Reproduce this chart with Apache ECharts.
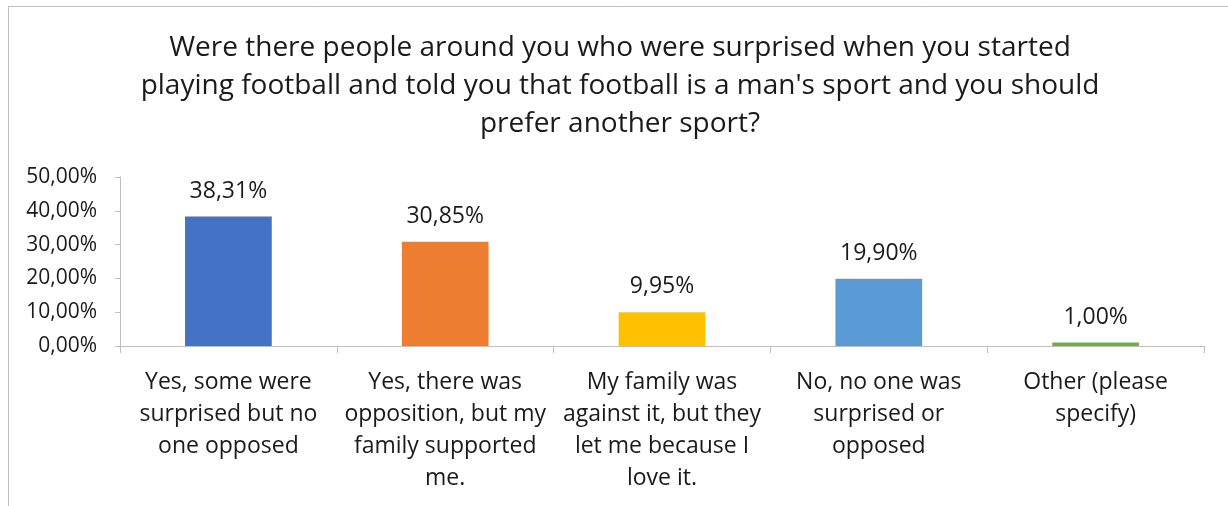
<!DOCTYPE html>
<html>
<head>
<meta charset="utf-8">
<script src="https://cdn.jsdelivr.net/npm/echarts@6/dist/echarts.min.js"></script>
<style>
  html, body { margin: 0; padding: 0; background: #fff; }
  #chart { width: 1228px; height: 506px; }
</style>
</head>
<body>
<div id="chart"></div>
<script>
const titleText = "Were there people around you who were surprised when you started\nplaying football and told you that football is a man's sport and you should\nprefer another sport?";
const categories = [
  "Yes, some were\nsurprised but no\none opposed",
  "Yes, there was\nopposition, but my\nfamily supported\nme.",
  "My family was\nagainst it, but they\nlet me because I\nlove it.",
  "No, no one was\nsurprised or\nopposed",
  "Other (please\nspecify)"
];
const values = [38.31, 30.85, 9.95, 19.90, 1.00];
const barColors = ["#4472C4", "#ED7D31", "#FFC000", "#5B9BD5", "#70AD47"];
const yTicks = [0, 10, 20, 30, 40, 50];

const fontFamily = "'Open Sans', sans-serif";
const textColor = '#1a1a1a';
const pct = v => v.toFixed(2).replace('.', ',') + '%';

const chart = echarts.init(document.getElementById('chart'));
chart.setOption({
  animation: false,
  textStyle: { fontFamily: fontFamily, color: textColor },
  graphic: [
    {
      type: 'polyline',
      shape: { points: [[8.5, 520], [8.5, 6.5], [1240, 6.5]] },
      style: { stroke: '#bfbfbf', lineWidth: 1, fill: null },
      silent: true
    },
    {
      type: 'text',
      x: 620,
      y: 29,
      style: {
        text: titleText,
        align: 'center',
        verticalAlign: 'top',
        fontSize: 28,
        lineHeight: 38,
        fontFamily: fontFamily,
        fill: textColor
      },
      silent: true
    }
  ],
  grid: { left: 120, right: 24, top: 177, bottom: 160, containLabel: false },
  xAxis: {
    type: 'category',
    data: categories,
    axisLine: { lineStyle: { color: '#bfbfbf' } },
    axisTick: { show: true, length: 7, lineStyle: { color: '#bfbfbf' } },
    axisLabel: { fontSize: 23, lineHeight: 32, margin: 20, color: textColor, interval: 0 }
  },
  yAxis: {
    type: 'value',
    min: yTicks[0],
    max: yTicks[yTicks.length - 1],
    interval: yTicks[1] - yTicks[0],
    axisLine: { show: true, lineStyle: { color: '#bfbfbf' } },
    axisTick: { show: true, length: 5, lineStyle: { color: '#bfbfbf' } },
    splitLine: { show: false },
    axisLabel: { fontSize: 21, margin: 23, color: textColor, formatter: v => pct(v) }
  },
  series: [{
    type: 'bar',
    data: values.map((v, i) => ({ value: v, itemStyle: { color: barColors[i] } })),
    barCategoryGap: '60%',
    label: {
      show: true,
      position: 'top',
      distance: 14,
      fontSize: 23,
      color: textColor,
      formatter: p => pct(p.value)
    }
  }]
});
</script>
</body>
</html>
